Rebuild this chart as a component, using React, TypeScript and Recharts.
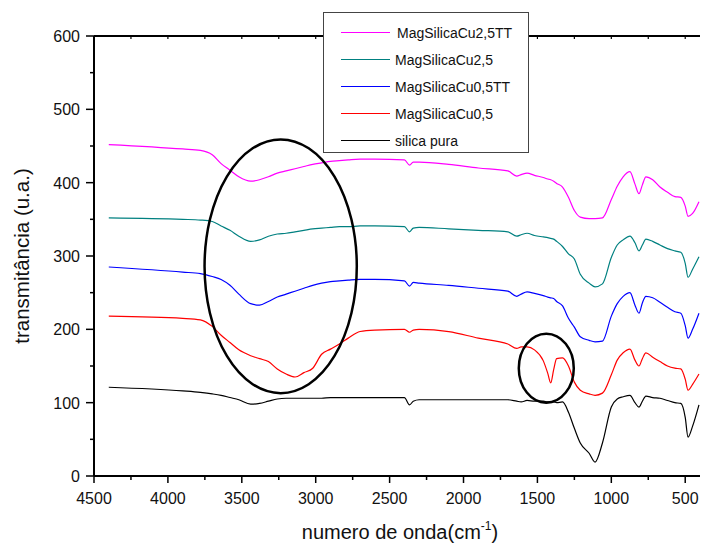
import { LineChart, Line, XAxis, YAxis, ReferenceDot } from 'recharts';

// wavenumbers (cm-1)
const waves = [
  4400, 3900, 3780, 3700, 3640, 3580, 3520, 3440, 3380, 3320, 3260, 3200, 3140, 3080, 3020, 2960, 2900,
  2840, 2780, 2700, 2600, 2400, 2365, 2340, 2300, 2100, 1900, 1700, 1640, 1610, 1570, 1520, 1460, 1430,
  1410, 1390, 1370, 1330, 1290, 1250, 1210, 1150, 1110, 1060, 1000, 960, 920, 874, 840, 813, 790, 766,
  720, 671, 620, 570, 530, 500, 481, 450, 407,
];

const cu25TT = [
  452, 446, 444, 438, 426, 417, 408, 402, 404, 408, 413, 416, 419, 422, 425, 427, 429,
  430, 431, 432, 432, 431, 424, 428, 428, 425, 420, 416, 409, 411, 413, 410, 407, 405,
  404, 402, 399, 394, 380, 362, 353, 351, 351, 352, 377, 395, 408, 415, 398, 385, 397, 408,
  404, 394, 387, 381, 380, 368, 354, 358, 374,
];

const cu25 = [
  352, 350, 349, 347, 341, 335, 327, 320, 322, 327, 330, 331, 333, 335, 337, 338, 339,
  340, 340, 341, 341, 340, 333, 338, 339, 337, 335, 333, 327, 329, 331, 328, 326, 325,
  324, 323, 320, 313, 303, 296, 275, 263, 258, 262, 298, 315, 322, 327, 318, 307, 315, 323,
  320, 315, 310, 307, 305, 290, 271, 282, 299,
];

const cu05TT = [
  285, 278, 276, 272, 268, 260, 248, 235, 233, 238, 244, 248, 252, 256, 260, 263, 265,
  266, 267, 268, 268, 266, 259, 264, 263, 260, 256, 252, 245, 248, 251, 249, 246, 244,
  243, 242, 238, 232, 215, 203, 190, 185, 183, 184, 218, 235, 245, 250, 233, 222, 236, 245,
  243, 237, 230, 224, 222, 205, 188, 200, 222,
];

const cu05 = [
  218, 215, 213, 204, 192, 182, 172, 164, 160, 156, 146, 139, 135, 141, 147, 166, 173,
  180, 188, 197, 199, 200, 196, 199, 200, 197, 188, 180, 174, 176, 176, 172, 157, 140,
  127, 145, 160, 161, 150, 128, 117, 112, 110, 113, 138, 158, 168, 173, 158, 150, 160, 168,
  162, 156, 150, 147, 146, 132, 117, 125, 139,
];

const silicaPura = [
  121, 116, 114, 112, 110, 107, 104, 98, 99, 102, 105, 106, 106, 106, 106, 106, 107,
  107, 107, 107, 107, 107, 97, 102, 104, 104, 104, 104, 102, 101, 103, 102, 102, 101,
  101, 101, 100, 101, 87, 65, 45, 31, 19, 45, 94, 105, 108, 110, 100, 94, 102, 109,
  107, 106, 103, 100, 99, 80, 53, 68, 97,
];

const xTicks = [4500, 4250, 4000, 3750, 3500, 3250, 3000, 2750, 2500, 2250, 2000, 1750, 1500, 1250, 1000, 750, 500];
const yTicks = [0, 50, 100, 150, 200, 250, 300, 350, 400, 450, 500, 550, 600];

const series = [
  { key: 'cu25TT', name: 'MagSilicaCu2,5TT', color: '#ff00ff', values: cu25TT },
  { key: 'cu25', name: 'MagSilicaCu2,5', color: '#008080', values: cu25 },
  { key: 'cu05TT', name: 'MagSilicaCu0,5TT', color: '#0000ff', values: cu05TT },
  { key: 'cu05', name: 'MagSilicaCu0,5', color: '#ff0000', values: cu05 },
  { key: 'silica', name: 'silica pura', color: '#000000', values: silicaPura },
];

// highlighted regions, in data units
const marks = [
  { wave: 3237, value: 286, rw: 515, rv: 173 },
  { wave: 1440, value: 147, rw: 186, rv: 47 },
];

const rows = waves.map((w, i) => {
  const row: Record<string, number> = { wave: w };
  series.forEach((s) => (row[s.key] = s.values[i]));
  return row;
});

const W = 701;
const H = 544;
const margin = { top: 35, right: 1, bottom: 38, left: 34 };
const plotW = W - 94 - margin.right;
const plotH = 440;
const font = '"Liberation Sans", Arial, sans-serif';

const XTick = ({ x, y, payload }: any) => {
  const major = payload.value % 500 === 0;
  return (
    <g>
      <line x1={x} y1={y} x2={x} y2={y + (major ? 7 : 4)} stroke="#000" strokeWidth={1.5} />
      {major && (
        <text x={x} y={y + 28} textAnchor="middle" fontSize={16} fontFamily={font} fill="#111">
          {payload.value}
        </text>
      )}
    </g>
  );
};

const TopTick = ({ x, y }: any) => <line x1={x} y1={y} x2={x} y2={y + 3} stroke="#000" strokeWidth={1.2} />;

const YTick = ({ x, y, payload }: any) => {
  const major = payload.value % 100 === 0;
  return (
    <g>
      <line x1={x - (major ? 8 : 4)} y1={y} x2={x} y2={y} stroke="#000" strokeWidth={1.5} />
      {major && (
        <text x={x - 14} y={y + 6} textAnchor="end" fontSize={16} fontFamily={font} fill="#111">
          {payload.value}
        </text>
      )}
    </g>
  );
};

const LegendBox = () => (
  <div
    style={{
      position: 'absolute',
      left: 323,
      top: 12,
      width: 206,
      height: 141,
      boxSizing: 'border-box',
      border: '1px solid #444',
      background: '#fff',
      fontFamily: font,
      fontSize: 14,
      color: '#111',
    }}
  >
    {series.map((s, i) => (
      <div key={s.key} style={{ position: 'absolute', left: 17, top: 11 + i * 27, height: 17, display: 'flex', alignItems: 'center' }}>
        <div style={{ width: 49, height: 1, background: s.color }} />
        <span style={{ marginLeft: i === 0 ? 7 : 5, whiteSpace: 'nowrap' }}>{s.name}</span>
      </div>
    ))}
  </div>
);

const Ellipse = ({ cx, cy, rw, rv }: any) => (
  <ellipse cx={cx} cy={cy} rx={(rw * plotW) / 4100} ry={(rv * plotH) / 600} fill="none" stroke="#000" strokeWidth={2.5} />
);

export default function App() {
  return (
    <div style={{ position: 'absolute', left: 0, top: 0, width: W, height: H, background: '#fff' }}>
      <LineChart width={W} height={H} data={rows} margin={margin}>
        <XAxis
          dataKey="wave"
          type="number"
          domain={[400, 4500]}
          reversed
          ticks={xTicks}
          interval={0}
          tickSize={0}
          tickMargin={0}
          tick={<XTick />}
          tickLine={false}
          axisLine={{ stroke: '#000', strokeWidth: 2 }}
          height={30}
          label={{
            content: ({ viewBox }: any) => (
              <text x={viewBox.x + viewBox.width / 2 + 3} y={viewBox.y + 63} textAnchor="middle" fontSize={20} fontFamily={font} fill="#111">
                numero de onda(cm
                <tspan dy={-9} fontSize={12}>-1</tspan>
                <tspan dy={9}>)</tspan>
              </text>
            ),
          }}
        />
        <XAxis
          xAxisId="top"
          orientation="top"
          dataKey="wave"
          type="number"
          domain={[400, 4500]}
          reversed
          ticks={xTicks}
          interval={0}
          tickSize={0}
          tickMargin={0}
          tick={<TopTick />}
          tickLine={false}
          axisLine={{ stroke: '#000', strokeWidth: 2 }}
          height={1}
        />
        <YAxis
          type="number"
          domain={[0, 600]}
          ticks={yTicks}
          interval={0}
          tickSize={0}
          tickMargin={0}
          tick={<YTick />}
          tickLine={false}
          axisLine={{ stroke: '#000', strokeWidth: 2 }}
          width={60}
          label={{
            content: () => (
              <text
                x={21}
                y={256}
                transform="rotate(-90 21 256)"
                textAnchor="middle"
                dominantBaseline="central"
                fontSize={20.5}
                fontFamily={font}
                fill="#111"
              >
                transmitância (u.a.)
              </text>
            ),
          }}
        />
        {series.map((s) => (
          <Line
            key={s.key}
            dataKey={s.key}
            name={s.name}
            type="monotone"
            stroke={s.color}
            strokeWidth={1.2}
            dot={false}
            activeDot={false}
            isAnimationActive={false}
          />
        ))}
        {marks.map((m, i) => (
          <ReferenceDot key={i} x={m.wave} y={m.value} r={1} shape={(p: any) => <Ellipse {...p} rw={m.rw} rv={m.rv} />} />
        ))}
      </LineChart>
      <LegendBox />
    </div>
  );
}
